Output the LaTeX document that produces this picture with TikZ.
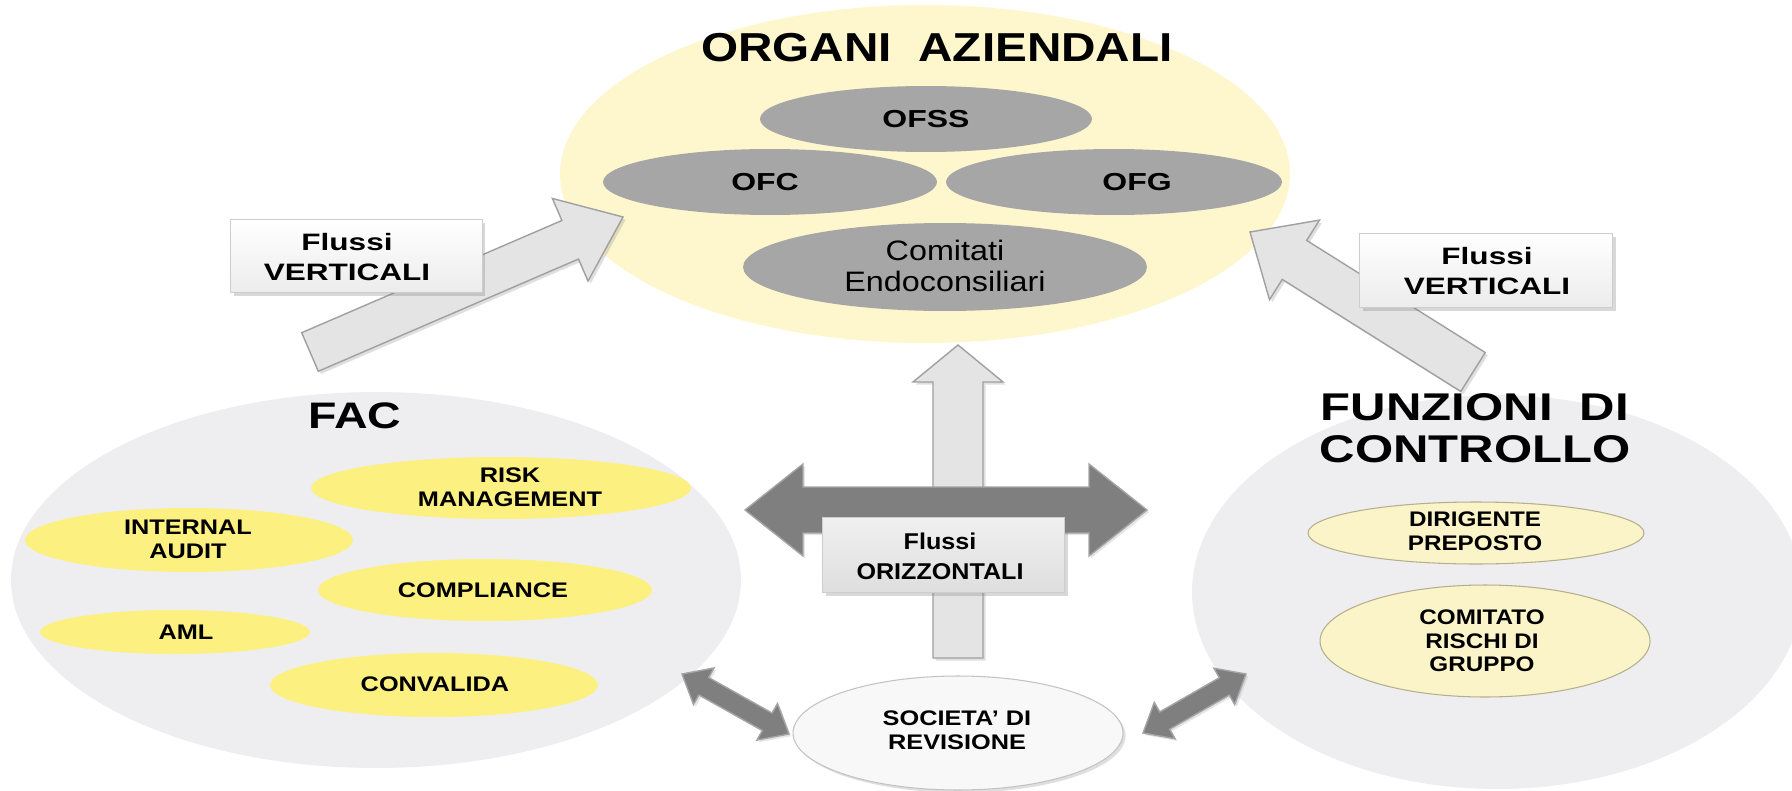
\documentclass[tikz,border=0pt]{standalone}
\usepackage{fontspec}
\usepackage{graphicx}
\setmainfont{Liberation Sans}
\usetikzlibrary{calc,shadows,shapes.geometric}
\definecolor{yel}{RGB}{254,247,206}
\definecolor{ofgray}{RGB}{166,166,166}
\definecolor{lgray}{RGB}{238,238,240}
\definecolor{fyel}{RGB}{252,241,128}
\definecolor{pyel}{RGB}{250,244,200}
\definecolor{pyeldraw}{RGB}{180,175,140}
\definecolor{darr}{RGB}{127,127,127}
\definecolor{darrdraw}{RGB}{165,165,165}
\definecolor{larr}{RGB}{228,228,228}
\definecolor{larrdraw}{RGB}{160,160,160}
\newcommand\W[2]{\scalebox{#1}[1]{#2}}
\newcommand\blockarrow[6]{%
  \coordinate (ba-c) at ($(#3)!#6!(#2)$);
  \path[#1] ($(#2)!#4!90:(#3)$) -- ($(ba-c)!#4!90:(#3)$) -- ($(ba-c)!#5!90:(#3)$) -- (#3)
    -- ($(ba-c)!#5!-90:(#3)$) -- ($(ba-c)!#4!-90:(#3)$) -- ($(#2)!#4!-90:(#3)$) -- cycle;
}
\newcommand\dblarrow[6]{%
  \coordinate (da-a) at ($(#2)!#6!(#3)$);
  \coordinate (da-b) at ($(#3)!#6!(#2)$);
  \path[#1] (#2) -- ($(da-a)!#5!90:(#3)$) -- ($(da-a)!#4!90:(#3)$) -- ($(da-b)!#4!-90:(#2)$)
    -- ($(da-b)!#5!-90:(#2)$) -- (#3) -- ($(da-b)!#5!90:(#2)$) -- ($(da-b)!#4!90:(#2)$)
    -- ($(da-a)!#4!-90:(#3)$) -- ($(da-a)!#5!-90:(#3)$) -- cycle;
}
\begin{document}
\begin{tikzpicture}[x=0.02cm,y=-0.02cm,
  ell/.style={ellipse, inner sep=0pt},
  lbl/.style={align=center, inner sep=0pt, text=black},
  t12/.style={lbl, font=\fontsize{12}{13.5}\selectfont\bfseries},
  fyell/.style={ell, fill=fyel},
  pyell/.style={ell, fill=pyel, draw=pyeldraw, line width=0.6pt},
  ofell/.style={ell, fill=ofgray},
  lightarrow/.style={fill=larr, draw=larrdraw, line width=0.8pt, line join=miter,
    drop shadow={opacity=0.25, shadow xshift=1.5pt, shadow yshift=-1.5pt}},
  darkarrow/.style={fill=darr, draw=darrdraw, line width=0.8pt,
    drop shadow={opacity=0.2, shadow xshift=1.2pt, shadow yshift=-1.2pt}},
  boxst/.style={draw={rgb,255:red,205;green,205;blue,205}, top color=white,
    bottom color={rgb,255:red,236;green,236;blue,236}, inner sep=0pt,
    drop shadow={opacity=0.3, shadow xshift=2pt, shadow yshift=-2pt}},
]
\useasboundingbox (0,0) rectangle (1792,791);
\fill[white] (0,0) rectangle (1792,791);

% big background ellipses
\node[ell, fill=lgray, minimum width=14.6cm, minimum height=7.52cm] (fac) at (376,580) {};
\node[ell, fill=lgray, minimum width=12.2cm, minimum height=7.88cm] (fc) at (1497,592) {};
\node[ell, fill=yel, minimum width=14.6cm, minimum height=6.76cm] (org) at (925,174) {};

% organi aziendali
\node[lbl, font=\fontsize{23}{26}\selectfont\bfseries] (orgt) at (937,48) {\W{1.18}{ORGANI~ AZIENDALI}};
\node[ofell, minimum width=6.64cm, minimum height=1.32cm] (ofss) at (926,119) {};
\node[ofell, minimum width=6.68cm, minimum height=1.32cm] (ofc) at (770,182) {};
\node[ofell, minimum width=6.72cm, minimum height=1.32cm] (ofg) at (1114,182) {};
\node[ofell, minimum width=8.08cm, minimum height=1.76cm] (com) at (945,267) {};
\node[lbl, font=\fontsize{14}{16}\selectfont\bfseries] (ofsst) at (926,119) {\W{1.3}{OFSS}};
\node[lbl, font=\fontsize{14}{16}\selectfont\bfseries] (ofct) at (765,182) {\W{1.3}{OFC}};
\node[lbl, font=\fontsize{14}{16}\selectfont\bfseries] (ofgt) at (1137,182) {\W{1.3}{OFG}};
\node[lbl, font=\fontsize{16}{17.5}\selectfont] (comt) at (945,266) {\W{1.15}{Comitati}\\\W{1.15}{Endoconsiliari}};

% FAC
\node[lbl, font=\fontsize{21}{24}\selectfont\bfseries] (fact) at (355,416) {\W{1.26}{FAC}};
\node[fyell, minimum width=7.6cm, minimum height=1.24cm] (rm) at (501,488) {};
\node[fyell, minimum width=6.56cm, minimum height=1.28cm] (ia) at (189,540) {};
\node[fyell, minimum width=6.68cm, minimum height=1.24cm] (cp) at (485,590) {};
\node[fyell, minimum width=5.4cm, minimum height=0.88cm] (aml) at (175,632) {};
\node[fyell, minimum width=6.56cm, minimum height=1.28cm] (cv) at (434,685) {};
\node[t12] (rmt) at (510,487) {\W{1.2}{RISK}\\\W{1.2}{MANAGEMENT}};
\node[t12] (iat) at (188,539) {\W{1.2}{INTERNAL}\\\W{1.2}{AUDIT}};
\node[t12] (cpt) at (483,590) {\W{1.2}{COMPLIANCE}};
\node[t12] (amlt) at (186,632) {\W{1.2}{AML}};
\node[t12] (cvt) at (435,684) {\W{1.2}{CONVALIDA}};

% Funzioni di controllo
\node[lbl, font=\fontsize{22}{23.8}\selectfont\bfseries] (fct) at (1475,428) {\W{1.27}{FUNZIONI~ DI}\\\W{1.27}{CONTROLLO}};
\node[pyell, minimum width=6.72cm, minimum height=1.24cm] (dp) at (1476,533) {};
\node[pyell, minimum width=6.6cm, minimum height=2.24cm] (crg) at (1485,641) {};
\node[t12] (dpt) at (1475,531) {\W{1.15}{DIRIGENTE}\\\W{1.15}{PREPOSTO}};
\node[t12] (crgt) at (1482,641) {\W{1.15}{COMITATO}\\\W{1.15}{RISCHI DI}\\\W{1.15}{GRUPPO}};

% societa di revisione
\node[ell, fill={rgb,255:red,248;green,248;blue,248}, draw={rgb,255:red,195;green,195;blue,195},
  line width=0.6pt, minimum width=6.6cm, minimum height=2.28cm,
  drop shadow={opacity=0.25, shadow xshift=1.5pt, shadow yshift=-1.5pt}] (soc) at (958,733) {};
\node[t12] (soct) at (957,730) {\W{1.2}{SOCIETA' DI}\\\W{1.2}{REVISIONE}};

% arrow end points
\coordinate (lvtail) at (310,352);
\coordinate (lvtip) at (623,217);
\coordinate (rvtail) at (1473,372);
\coordinate (rvtip) at (1250,232);
\coordinate (uptail) at (958,658);
\coordinate (uptip) at (958,345);
\coordinate (hl) at (745,510);
\coordinate (hr) at (1147,510);
\coordinate (sl1) at (682,674);
\coordinate (sl2) at (789,734);
\coordinate (sr1) at (1143,733);
\coordinate (sr2) at (1246,674);

% vertical flows
\blockarrow{lightarrow}{lvtail}{lvtip}{0.42cm}{0.9cm}{1.15cm}
\node[boxst, minimum width=5.04cm, minimum height=1.46cm] (boxl) at (356,256) {};
\node[lbl, font=\fontsize{13.5}{17}\selectfont\bfseries] (boxlt) at (347,257) {\W{1.33}{Flussi}\\\W{1.33}{VERTICALI}};

\blockarrow{lightarrow}{rvtail}{rvtip}{0.46cm}{0.94cm}{1.05cm}
\node[boxst, minimum width=5.06cm, minimum height=1.48cm] (boxr) at (1486,270) {};
\node[lbl, font=\fontsize{13.5}{17}\selectfont\bfseries] (boxrt) at (1487,271) {\W{1.33}{Flussi}\\\W{1.33}{VERTICALI}};

% central flows
\blockarrow{lightarrow}{uptail}{uptip}{0.5cm}{0.9cm}{0.74cm}
\dblarrow{darkarrow}{hl}{hr}{0.46cm}{0.92cm}{1.16cm}
\node[boxst, top color={rgb,255:red,240;green,240;blue,240}, bottom color={rgb,255:red,222;green,222;blue,222},
  minimum width=4.84cm, minimum height=1.5cm] (boxc) at (943,555) {};
\node[lbl, font=\fontsize{13}{17}\selectfont\bfseries] (boxct) at (940,556) {\W{1.1}{Flussi}\\\W{1.1}{ORIZZONTALI}};

% small double arrows
\dblarrow{darkarrow}{sl1}{sl2}{0.2cm}{0.42cm}{0.5cm}
\dblarrow{darkarrow}{sr1}{sr2}{0.2cm}{0.42cm}{0.5cm}
\end{tikzpicture}
\end{document}
